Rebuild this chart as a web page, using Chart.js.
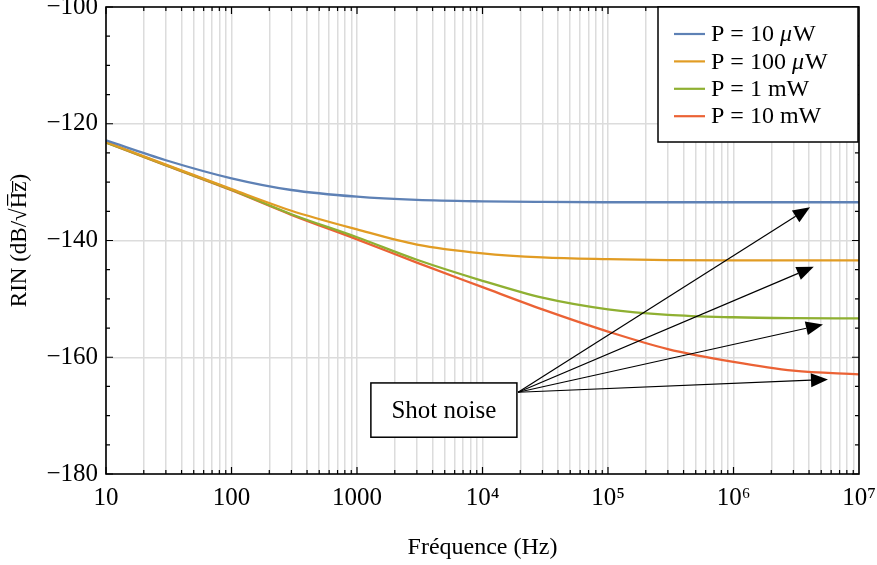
<!DOCTYPE html>
<html>
<head>
<meta charset="utf-8">
<script src="https://cdn.jsdelivr.net/npm/chart.js@4"></script>
<style>
  html, body { margin: 0; padding: 0; background: #fff; }
</style>
</head>
<body>
<canvas id="chartRin" width="877" height="565"></canvas>
<script>
// frequencies (Hz)
const freqs = [10, 30, 100, 300, 1e3, 3e3, 1e4, 3e4, 1e5, 3e5, 1e6, 3e6, 1e7];
// RIN values (dB/sqrt(Hz)) for each power
const rin10uW  = [-122.85, -126.25, -129.35, -131.35, -132.5, -133.05, -133.3, -133.4, -133.45, -133.45, -133.45, -133.45, -133.45];
const rin100uW = [-123.1, -127.0, -131.2, -134.9, -138.1, -140.7, -142.2, -142.9, -143.2, -143.35, -143.4, -143.4, -143.4];
const rin1mW   = [-123.2, -127.1, -131.3, -135.5, -139.45, -143.3, -146.9, -149.8, -151.8, -152.75, -153.15, -153.3, -153.35];
const rin10mW  = [-123.2, -127.15, -131.4, -135.6, -139.8, -143.8, -148.0, -151.8, -155.6, -158.6, -160.8, -162.3, -162.95];
const seriesLabels = ['P = 10 \u03bcW', 'P = 100 \u03bcW', 'P = 1 mW', 'P = 10 mW'];
const seriesColors = ['#5e81b5', '#e19c24', '#8fb032', '#eb6235'];
const yTicks = [-180, -160, -140, -120, -100];
// shot noise annotation, in data units
const shotOrigin = [1.92e4, -166.0];
const shotTips = [[4.07e6, -134.3], [4.36e6, -144.5], [5.16e6, -154.4], [5.66e6, -163.8]];
const shotBox = [1290, 1.88e4, -164.4, -173.7];

const FONT = "'Liberation Serif', 'Times New Roman', serif";
const sup = { 4: '\u2074', 5: '\u2075', 6: '\u2076', 7: '\u2077' };

function pts(vals) {
  return freqs.map((f, i) => ({ x: f, y: vals[i] }));
}

const allRin = [rin10uW, rin100uW, rin1mW, rin10mW];

// draws a legend label with an italic mu, like the LaTeX original
function drawLabel(ctx, text, x, y, size) {
  const parts = text.split('\u03bc');
  let cx = x;
  parts.forEach((p, i) => {
    if (i > 0) {
      ctx.font = 'italic ' + size + 'px ' + FONT;
      ctx.fillText('\u03bc', cx, y);
      cx += ctx.measureText('\u03bc').width + 1;
    }
    ctx.font = size + 'px ' + FONT;
    ctx.fillText(p, cx, y);
    cx += ctx.measureText(p).width;
  });
}

const framePlugin = {
  id: 'frame',
  afterDraw(chart) {
    const { ctx, chartArea: a, scales: { x, y } } = chart;
    ctx.save();
    ctx.strokeStyle = '#000';
    ctx.lineWidth = 1.6;
    ctx.strokeRect(a.left, a.top, a.right - a.left, a.bottom - a.top);

    // inner ticks
    ctx.lineWidth = 1.2;
    ctx.beginPath();
    for (let d = 1; d < 7; d++) {
      for (let m = 1; m <= 9; m++) {
        const px = x.getPixelForValue(m * Math.pow(10, d));
        const len = m === 1 ? 7 : 4;
        ctx.moveTo(px, a.bottom); ctx.lineTo(px, a.bottom - len);
        ctx.moveTo(px, a.top); ctx.lineTo(px, a.top + len);
      }
    }
    for (let v = -180; v <= -100; v += 5) {
      const py = y.getPixelForValue(v);
      const len = v % 20 === 0 ? 7 : 4;
      ctx.moveTo(a.left, py); ctx.lineTo(a.left + len, py);
      ctx.moveTo(a.right, py); ctx.lineTo(a.right - len, py);
    }
    ctx.stroke();

    // shot noise box + arrows
    const bx0 = x.getPixelForValue(shotBox[0]), bx1 = x.getPixelForValue(shotBox[1]);
    const by0 = y.getPixelForValue(shotBox[2]), by1 = y.getPixelForValue(shotBox[3]);
    ctx.fillStyle = '#fff';
    ctx.fillRect(bx0, by0, bx1 - bx0, by1 - by0);
    ctx.lineWidth = 1.5;
    ctx.strokeRect(bx0, by0, bx1 - bx0, by1 - by0);
    ctx.fillStyle = '#000';
    ctx.font = '25px ' + FONT;
    ctx.textAlign = 'center';
    ctx.textBaseline = 'middle';
    ctx.fillText('Shot noise', (bx0 + bx1) / 2, (by0 + by1) / 2 + 1);

    const ox = x.getPixelForValue(shotOrigin[0]), oy = y.getPixelForValue(shotOrigin[1]);
    ctx.lineWidth = 1.2;
    shotTips.forEach(([f, v]) => {
      const tx = x.getPixelForValue(f), ty = y.getPixelForValue(v);
      const ang = Math.atan2(ty - oy, tx - ox);
      const hl = 17, hw = 7;
      const bxp = tx - hl * Math.cos(ang), byp = ty - hl * Math.sin(ang);
      ctx.beginPath();
      ctx.moveTo(ox, oy); ctx.lineTo(bxp, byp);
      ctx.stroke();
      ctx.beginPath();
      ctx.moveTo(tx, ty);
      ctx.lineTo(bxp + hw * Math.sin(ang), byp - hw * Math.cos(ang));
      ctx.lineTo(bxp - hw * Math.sin(ang), byp + hw * Math.cos(ang));
      ctx.closePath();
      ctx.fill();
    });

    // legend inside the plot, top right
    const lw = 200, lh = 135;
    const lx = a.right - lw - 1, ly = a.top;
    ctx.fillStyle = '#fff';
    ctx.fillRect(lx, ly, lw, lh);
    ctx.lineWidth = 1.5;
    ctx.strokeRect(lx, ly, lw, lh);
    ctx.textAlign = 'left';
    ctx.textBaseline = 'middle';
    seriesLabels.forEach((lab, i) => {
      const ry = ly + 27 + i * 27.4;
      ctx.strokeStyle = seriesColors[i];
      ctx.lineWidth = 2.2;
      ctx.beginPath();
      ctx.moveTo(lx + 16, ry); ctx.lineTo(lx + 47, ry);
      ctx.stroke();
      ctx.fillStyle = '#000';
      drawLabel(ctx, lab, lx + 53, ry + 1, 24);
    });
    ctx.restore();
  }
};

const ctx = document.getElementById('chartRin');
new Chart(ctx, {
  type: 'line',
  data: {
    datasets: allRin.map((vals, i) => ({
      label: seriesLabels[i],
      data: pts(vals),
      borderColor: seriesColors[i],
      backgroundColor: seriesColors[i],
      borderWidth: 2.3,
      pointRadius: 0,
      cubicInterpolationMode: 'monotone',
      fill: false
    }))
  },
  options: {
    responsive: false,
    animation: false,
    maintainAspectRatio: false,
    devicePixelRatio: 1,
    layout: { padding: { top: 7, right: 18, left: 0, bottom: 0 } },
    plugins: {
      legend: { display: false },
      tooltip: { enabled: false }
    },
    scales: {
      x: {
        type: 'logarithmic',
        min: 10,
        max: 1e7,
        afterBuildTicks(scale) {
          const t = [];
          for (let d = 1; d <= 7; d++) {
            for (let m = 1; m <= 9; m++) {
              const v = m * Math.pow(10, d);
              if (v <= 1e7) t.push({ value: v });
            }
          }
          scale.ticks = t;
        },
        afterFit(scale) {
          scale.height = 91;
          scale.paddingLeft = 0;
          scale.paddingRight = 0;
        },
        grid: { color: '#dcdcdc', lineWidth: 1.5, drawTicks: false },
        border: { display: false },
        ticks: {
          autoSkip: false,
          maxRotation: 0,
          padding: 9,
          color: '#000',
          font: { family: FONT, size: 25 },
          callback(value) {
            const e = Math.log10(value);
            if (Math.abs(e - Math.round(e)) > 1e-9) return '';
            const n = Math.round(e);
            return n <= 3 ? String(Math.round(value)) : '10' + sup[n];
          }
        },
        title: {
          display: true,
          text: 'Fréquence (Hz)',
          color: '#000',
          font: { family: FONT, size: 24 },
          padding: { bottom: 3 }
        }
      },
      y: {
        min: -180,
        max: -100,
        afterBuildTicks(scale) {
          scale.ticks = yTicks.map(v => ({ value: v }));
        },
        afterFit(scale) {
          scale.width = 106;
          scale.paddingTop = 0;
          scale.paddingBottom = 0;
        },
        grid: {
          drawTicks: false,
          lineWidth: 1.5,
          color(c) {
            return (c.tick && (c.tick.value === -180 || c.tick.value === -100)) ? 'rgba(0,0,0,0)' : '#dcdcdc';
          }
        },
        border: { display: false },
        ticks: {
          padding: 8,
          color: '#000',
          font: { family: FONT, size: 25 },
          callback(value) { return '\u2212' + Math.abs(value); }
        },
        title: {
          display: true,
          text: 'RIN (dB/\u221AH\u0305z\u0305)',
          color: '#000',
          font: { family: FONT, size: 23 },
          padding: { top: 6 }
        }
      }
    }
  },
  plugins: [framePlugin]
});
</script>
</body>
</html>
